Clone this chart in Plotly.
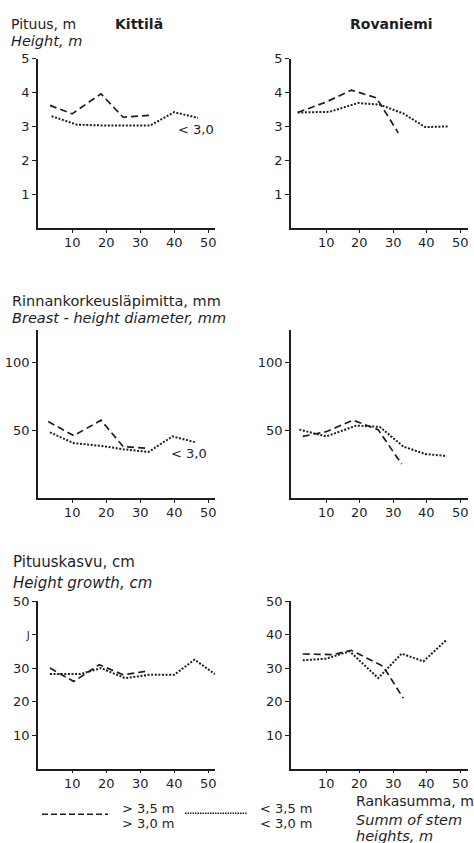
import plotly.graph_objects as go

W, H = 474, 843

# ---------------- data ----------------
# Height, m
kit_h_dash_x = [3.5, 10, 18.5, 25, 33]
kit_h_dash_y = [3.62, 3.37, 3.96, 3.27, 3.33]
kit_h_dot_x = [4, 11.5, 18, 25, 33, 40, 47]
kit_h_dot_y = [3.3, 3.05, 3.03, 3.03, 3.03, 3.42, 3.25]
rov_h_dash_x = [1.5, 10, 17.5, 25, 31.5]
rov_h_dash_y = [3.41, 3.72, 4.07, 3.84, 2.81]
rov_h_dot_x = [1.5, 11, 19.5, 26, 33, 39.5, 46.5]
rov_h_dot_y = [3.41, 3.43, 3.69, 3.64, 3.38, 2.98, 3.0]

# Breast-height diameter, mm
kit_d_dash_x = [3, 10.5, 18.5, 25, 32.5]
kit_d_dash_y = [56.5, 46, 57.5, 38, 36.7]
kit_d_dot_x = [3.5, 10.5, 18.5, 25, 32.5, 39.5, 46.5]
kit_d_dot_y = [48.5, 40.5, 38.5, 36, 34, 45.5, 41]
rov_d_dash_x = [3, 10, 18, 25.5, 32.5]
rov_d_dash_y = [45.5, 49, 57.5, 50.5, 25]
rov_d_dot_x = [2, 10, 19, 26, 33, 39.5, 46]
rov_d_dot_y = [50.5, 45.5, 53.5, 52.5, 38, 32.5, 31]

# Height growth, cm
kit_g_dash_x = [3.5, 10.5, 18, 25, 31.5]
kit_g_dash_y = [30, 26, 31, 28, 29]
kit_g_dot_x = [3.5, 12.5, 18.5, 25.5, 32.5, 40, 46, 52]
kit_g_dot_y = [28.2, 28.2, 30, 27, 28, 28, 32.5, 28.2]
rov_g_dash_x = [3, 12, 17.5, 27, 33]
rov_g_dash_y = [34.2, 34, 35.3, 30.5, 21]
rov_g_dot_x = [3, 10, 17, 25.5, 32.5, 39, 46]
rov_g_dot_y = [32.3, 32.8, 35, 27, 34.3, 32, 38.5]

x_ticks = [10, 20, 30, 40, 50]
x_ticktext = ["10", "20", "30", "40", "50"]
h_ticks = [1, 2, 3, 4, 5]
d_ticks = [50, 100]
g_ticks = [10, 20, 30, 40, 50]
g_ticktext_left = ["10", "20", "30", "<span style='font-size:10px'>J</span>", "50"]

# ---------------- layout helpers ----------------
FONT = "DejaVu Sans"
INK = "#1e1e1e"


def fx(p):
    return p / W


def fy(p):
    return 1 - p / H


fig = go.Figure()

col_dom = [[fx(38), fx(215)], [fx(291), fx(468)]]
col_rng = [[0, 52], [-0.5, 52.3]]
row_px = [(52, 223), (326, 495), (599, 768)]
row_dom = [[fy(b), fy(t)] for t, b in row_px]
row_rng = [[0, 5], [0, 124], [0, 50]]
row_ticks = [h_ticks, d_ticks, g_ticks]

panels = [
    (0, 0, kit_h_dash_x, kit_h_dash_y, kit_h_dot_x, kit_h_dot_y),
    (0, 1, rov_h_dash_x, rov_h_dash_y, rov_h_dot_x, rov_h_dot_y),
    (1, 0, kit_d_dash_x, kit_d_dash_y, kit_d_dot_x, kit_d_dot_y),
    (1, 1, rov_d_dash_x, rov_d_dash_y, rov_d_dot_x, rov_d_dot_y),
    (2, 0, kit_g_dash_x, kit_g_dash_y, kit_g_dot_x, kit_g_dot_y),
    (2, 1, rov_g_dash_x, rov_g_dash_y, rov_g_dot_x, rov_g_dot_y),
]

axis_common = dict(
    showline=True, linecolor=INK, linewidth=1.6, ticks="outside", ticklen=4,
    tickwidth=1.2, tickcolor=INK, showgrid=False, zeroline=False,
    tickfont=dict(family=FONT, size=13, color=INK), fixedrange=True,
)

ann = []

for i, (r, c, dx, dy, ox, oy) in enumerate(panels):
    n = i + 1
    xa = "x" if n == 1 else f"x{n}"
    ya = "y" if n == 1 else f"y{n}"
    fig.add_trace(go.Scatter(x=dx, y=dy, mode="lines", xaxis=xa, yaxis=ya,
                             line=dict(color=INK, width=1.7, dash="7px,4px"),
                             showlegend=False, hoverinfo="skip"))
    fig.add_trace(go.Scatter(x=ox, y=oy, mode="lines", xaxis=xa, yaxis=ya,
                             line=dict(color=INK, width=2.0, dash="2px,1.6px"),
                             showlegend=False, hoverinfo="skip"))
    xkey = "xaxis" if n == 1 else f"xaxis{n}"
    ykey = "yaxis" if n == 1 else f"yaxis{n}"
    xdict = dict(axis_common, domain=col_dom[c], range=col_rng[c],
                 tickvals=x_ticks, anchor=ya, ticklen=3, showticklabels=False)
    ydict = dict(axis_common, domain=row_dom[r], range=row_rng[r],
                 tickvals=row_ticks[r], anchor=xa)
    if r == 2 and c == 0:
        ydict["ticktext"] = g_ticktext_left
    fig.update_layout({xkey: xdict, ykey: ydict})
    # x tick labels placed a little closer to the axis, as in the original
    for tv, tt in zip(x_ticks, x_ticktext):
        ann.append(dict(x=tv, y=fy(row_px[r][1] + 14.5), xref=xa, yref="paper",
                        text=tt, showarrow=False, xanchor="center", yanchor="middle",
                        font=dict(family=FONT, size=13, color=INK)))


def txt(x, y, s, size=14, bold=False, italic=False, xanchor="left"):
    ann.append(dict(
        x=fx(x), y=fy(y), xref="paper", yref="paper", text=s, showarrow=False,
        xanchor=xanchor, yanchor="middle",
        font=dict(family=FONT, size=size, color=INK,
                  weight="bold" if bold else "normal",
                  style="italic" if italic else "normal"),
    ))


txt(9, 17, "Pituus, m")
txt(9, 34, "Height, m", size=14.5, italic=True)
txt(139, 17, "Kittilä", bold=True, xanchor="center")
txt(391, 17, "Rovaniemi", bold=True, xanchor="center")
txt(10, 296, "Rinnankorkeusläpimitta, mm", size=14.5)
txt(10, 314, "Breast - height diameter, mm", size=14.5, italic=True)
txt(11, 560, "Pituuskasvu, cm", size=15)
txt(11, 581, "Height growth, cm", size=15, italic=True)

txt(120, 808, "> 3,5 m", size=13)
txt(120, 823, "> 3,0 m", size=13)
txt(258, 808, "< 3,5 m", size=13)
txt(258, 823, "< 3,0 m", size=13)
txt(354, 801, "Rankasumma, m")
txt(354, 820, "Summ of stem", size=14.5, italic=True)
txt(354, 836, "heights, m", size=14.5, italic=True)

# "< 3,0" labels in data coordinates
ann.append(dict(x=46.5, y=2.9, xref="x", yref="y", text="< 3,0", showarrow=False,
                font=dict(family=FONT, size=13, color=INK)))
ann.append(dict(x=44.5, y=33, xref="x3", yref="y3", text="< 3,0", showarrow=False,
                font=dict(family=FONT, size=13, color=INK)))

shapes = [
    dict(type="line", xref="paper", yref="paper", x0=fx(42), x1=fx(108),
         y0=fy(814), y1=fy(814), line=dict(color=INK, width=1.7, dash="6px,3px")),
    dict(type="line", xref="paper", yref="paper", x0=fx(185), x1=fx(247),
         y0=fy(813), y1=fy(813), line=dict(color=INK, width=1.5, dash="1.5px,1px")),
]

fig.update_layout(
    width=W, height=H, margin=dict(l=0, r=0, t=0, b=0),
    paper_bgcolor="white", plot_bgcolor="white",
    annotations=ann, shapes=shapes, showlegend=False,
    font=dict(family=FONT, color=INK),
)

fig.write_html("out.html")
